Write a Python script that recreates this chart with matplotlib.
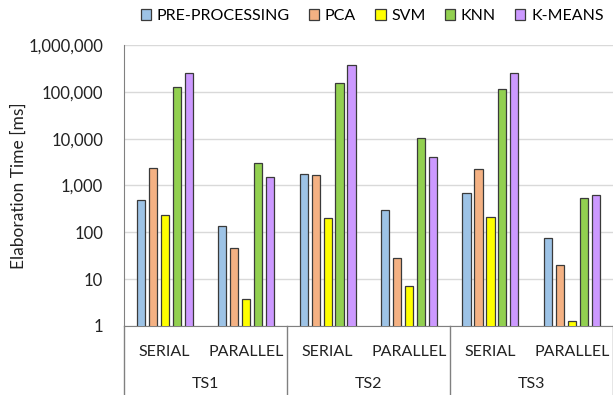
import matplotlib.pyplot as plt
from matplotlib.ticker import FuncFormatter, FixedLocator, NullLocator
from matplotlib.transforms import blended_transform_factory
import numpy as np

plt.rcParams['font.family'] = ['Lato', 'DejaVu Sans']

series = ['PRE-PROCESSING', 'PCA', 'SVM', 'KNN', 'K-MEANS']
colors = ['#9DC3E6', '#F4B183', '#FFFF00', '#92D050', '#CC99FF']
modes = ['SERIAL', 'PARALLEL']
datasets = ['TS1', 'TS2', 'TS3']

# values per series, in order TS1 serial, TS1 parallel, TS2 serial, ...
pre_processing = [500, 138, 1770, 295, 680, 76]
pca = [2340, 45, 1690, 27.6, 2270, 19.6]
svm = [230, 3.8, 198, 7.1, 212, 1.28]
knn = [127000, 3040, 154000, 10400, 117000, 540]
kmeans = [250000, 1480, 370000, 4000, 250000, 630]
values = [pre_processing, pca, svm, knn, kmeans]

fig = plt.figure(figsize=(6.13, 3.95), dpi=100)
ax = fig.add_axes([0.2023, 0.175, 0.797, 0.711])

x = np.arange(len(pre_processing))
w = 0.10
pitch = 0.147
for i, (name, vals) in enumerate(zip(series, values)):
    ax.bar(x + (i - 2) * pitch, vals, w, color=colors[i], edgecolor='#3a3a3a',
           linewidth=0.9, label=name, zorder=3)

ax.set_yscale('log')
ax.set_ylim(1, 1e6)
ax.set_xlim(-0.5, len(x) - 0.5)
ax.yaxis.set_major_locator(FixedLocator([10 ** k for k in range(7)]))
ax.yaxis.set_minor_locator(NullLocator())
ax.yaxis.set_major_formatter(FuncFormatter(lambda v, p: '{:,.0f}'.format(v)))
ax.tick_params(axis='y', length=0, labelsize=12, pad=15, colors='#222222')
ax.set_xticks([])
ax.grid(axis='y', color='#d9d9d9', linewidth=1, zorder=0)
for s in ['top', 'right']:
    ax.spines[s].set_visible(False)
ax.spines['left'].set_color('#808080')
ax.spines['bottom'].set_color('#808080')
ax.set_ylabel('Elaboration Time [ms]', fontsize=12.5, color='#222222')
ax.yaxis.set_label_coords(-0.20, 0.5)

# hierarchical category axis
trans = blended_transform_factory(ax.transData, ax.transAxes)
for j, xi in enumerate(x):
    ax.text(xi, -0.0925, modes[j % 2], transform=trans, ha='center', va='center',
            fontsize=11.5, color='#222222')
for k, ts in enumerate(datasets):
    ax.text(2 * k + 0.5, -0.206, ts, transform=trans, ha='center', va='center',
            fontsize=11.5, color='#222222')
for k in range(len(datasets) + 1):
    ax.plot([2 * k - 0.5, 2 * k - 0.5], [0, -0.25], transform=trans,
            color='#808080', linewidth=1, clip_on=False)

ax.legend(loc='center', bbox_to_anchor=(0.607, 0.96), bbox_transform=fig.transFigure,
          ncol=5, frameon=False, fontsize=11.5, handlelength=0.65, handleheight=0.65,
          handletextpad=0.35, columnspacing=1.2)

plt.savefig('out.png', dpi=100)
